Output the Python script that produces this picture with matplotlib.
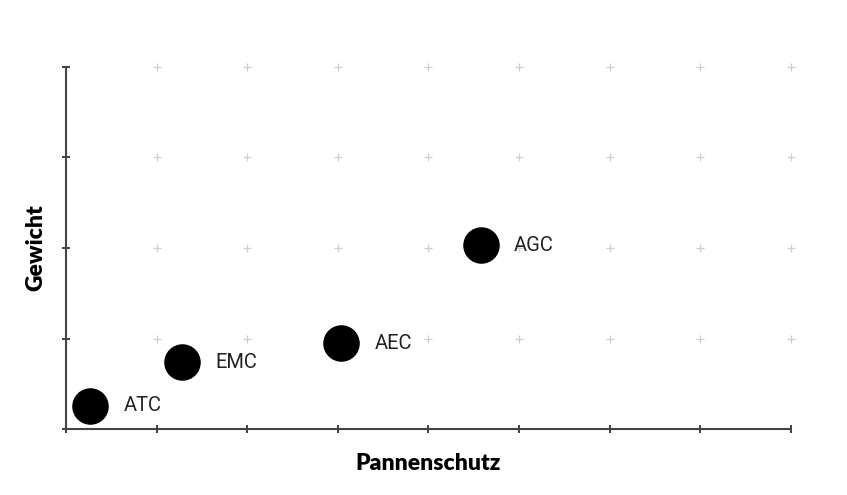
import matplotlib
matplotlib.use("Agg")
import matplotlib.pyplot as plt
import numpy as np

names = ["ATC", "EMC", "AEC", "AGC"]
pannenschutz = [0.27, 1.28, 3.04, 4.58]
gewicht = [0.26, 0.74, 0.95, 2.03]
x_ticks = list(range(0, 9))
y_ticks = list(range(0, 5))

fig = plt.figure(figsize=(8.47, 4.95), dpi=100)
ax = fig.add_axes([0.0779, 0.1327, 0.9335 - 0.0779, 0.8653 - 0.1327])
ax.set_xlim(0, 8)
ax.set_ylim(0, 4)

# grid "+" markers
gx, gy = np.meshgrid(x_ticks[1:], y_ticks[1:])
ax.scatter(gx.ravel(), gy.ravel(), marker="+", s=40, color="#cfcfcf", linewidths=0.9, zorder=1, clip_on=False)

ax.scatter(pannenschutz, gewicht, s=640, color="black", zorder=3, clip_on=False)
for n, x, y in zip(names, pannenschutz, gewicht):
    ax.annotate(n, (x, y), xytext=(24, 0), textcoords="offset points", va="center", ha="left",
                fontsize=14.5, family="Roboto", color="#222222")

for s in ["top", "right"]:
    ax.spines[s].set_visible(False)
for s in ["left", "bottom"]:
    ax.spines[s].set_color("#444444")
    ax.spines[s].set_linewidth(1.5)
ax.set_xticks(x_ticks)
ax.set_yticks(y_ticks)
ax.tick_params(direction="inout", length=6, width=1.3, color="#333333", labelbottom=False, labelleft=False)

ax.set_xlabel("Pannenschutz", fontsize=16.5, fontweight="heavy", family="Lato", labelpad=14)
ax.set_ylabel("Gewicht", fontsize=16.5, fontweight="heavy", family="Lato", labelpad=11)

fig.savefig("out.png", dpi=100, facecolor="white")
